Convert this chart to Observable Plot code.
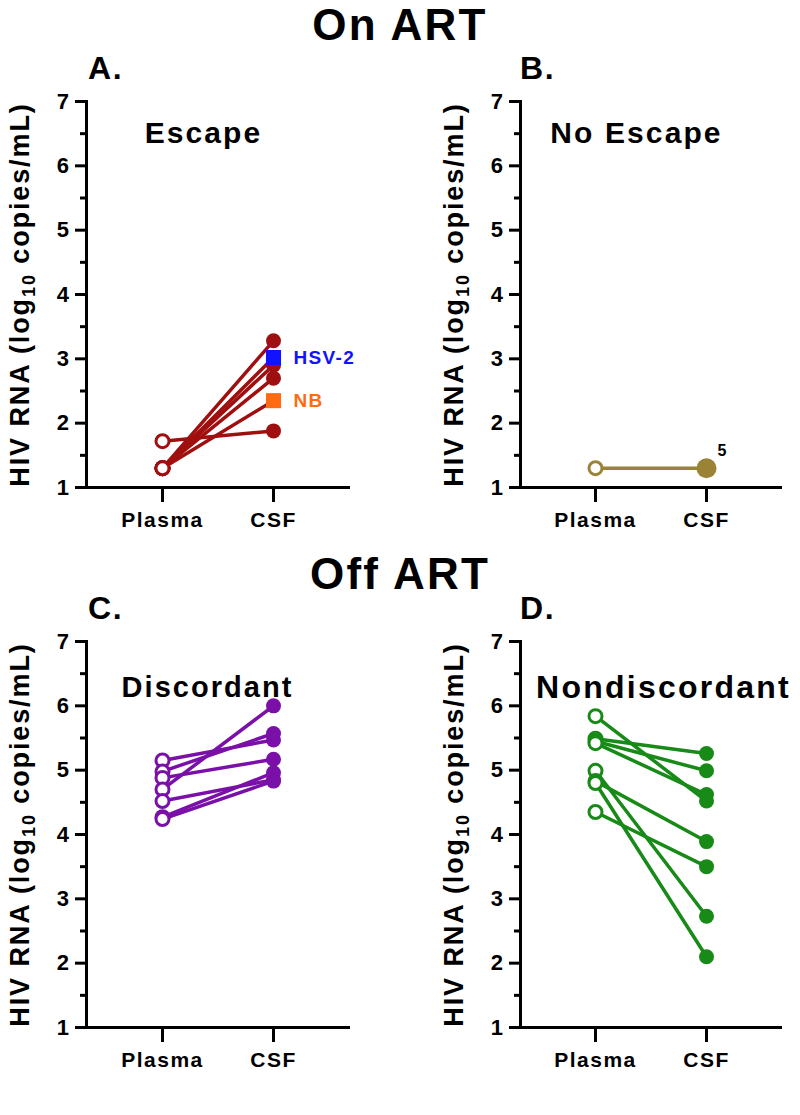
<!DOCTYPE html>
<html><head><meta charset="utf-8">
<script src="https://cdn.jsdelivr.net/npm/d3@7"></script>
<script src="https://cdn.jsdelivr.net/npm/@observablehq/plot@0.6"></script>
<style>
body{margin:0;background:#fff;font-family:"Liberation Sans",Arial,sans-serif;}
#fig{position:relative;width:800px;height:1115px;overflow:hidden;background:#fff;}
.t{position:absolute;font-weight:bold;color:#000;white-space:nowrap;line-height:1.15;letter-spacing:0.05em;}
.panel{position:absolute;}
</style></head><body><div id="fig"></div>
<script>
// ---------- data ----------
const categories = ["Plasma", "CSF"];
const yTicks = [1, 2, 3, 4, 5, 6, 7];
const yMinorTicks = [1.5, 2.5, 3.5, 4.5, 5.5, 6.5];
const yLabel = "HIV RNA (log10 copies/mL)";

// A. On ART, Escape
const escapePlasma = [1.72, 1.30, 1.30, 1.30, 1.30, 1.30];
const escapeCSF    = [1.88, 3.28, 3.02, 2.90, 2.70, 2.35];
const escapeTag    = ["",   "",   "HSV-2", "", "", "NB"];

// B. On ART, No Escape (5 overlapping participants)
const noEscapePlasma = [1.30];
const noEscapeCSF    = [1.30];
const noEscapeCount  = ["5"];

// C. Off ART, Discordant
const discPlasma = [5.15, 4.98, 4.88, 4.70, 4.52, 4.27, 4.24];
const discCSF    = [5.47, 5.57, 5.17, 6.00, 4.85, 4.96, 4.83];

// D. Off ART, Nondiscordant
const nondPlasma = [5.84, 5.49, 5.45, 5.42, 4.99, 4.83, 4.80, 4.35];
const nondCSF    = [4.52, 5.26, 4.99, 4.62, 2.73, 3.89, 2.10, 3.50];

// ---------- styles ----------
const FONT = "Liberation Sans, Arial, sans-serif";
const tagColors = {"HSV-2": "#1212ff", "NB": "#ff6a12"};

function rows(plasma, csf, tags) {
  const out = [];
  plasma.forEach((v, i) => {
    out.push({id: i, cat: "Plasma", v});
    out.push({id: i, cat: "CSF", v: csf[i], tag: tags ? tags[i] : ""});
  });
  return out;
}

function panel({data, color, title, titleSize, titleDx, titleDy, marginLeft, marginRight, bigCSF, countLabel}) {
  const plasmaRows = data.filter(d => d.cat === "Plasma");
  const csfCircles = data.filter(d => d.cat === "CSF" && !d.tag);
  const csfSquares = data.filter(d => d.cat === "CSF" && d.tag);
  const marks = [
    Plot.axisY(yTicks, {tickSize: 11, strokeWidth: 3, tickPadding: 5, tickFormat: d3.format("d"), fontSize: 22, fontWeight: "bold", label: null, fontFamily: FONT}),
    Plot.axisY(yMinorTicks, {tickSize: 6, strokeWidth: 3, text: null, label: null}),
    Plot.axisX({tickSize: 15, strokeWidth: 3, tickPadding: 10, fontSize: 21, fontWeight: "bold", label: null, fontFamily: FONT}),
    Plot.frame({anchor: "left", strokeWidth: 3, stroke: "black"}),
    Plot.frame({anchor: "bottom", strokeWidth: 3, stroke: "black"}),
    Plot.line(data, {x: "cat", y: "v", z: "id", stroke: color, strokeWidth: 3.5}),
    Plot.dot(plasmaRows, {x: "cat", y: "v", r: 6.5, stroke: color, fill: "white", strokeWidth: 3}),
    Plot.dot(csfCircles, {x: "cat", y: "v", r: bigCSF ? 10 : 7.5, fill: color, stroke: "none"}),
    Plot.dot(csfSquares, {x: "cat", y: "v", symbol: "square", r: 8.5, fill: d => tagColors[d.tag], stroke: "none"}),
    Plot.text(csfSquares, {x: "cat", y: "v", text: "tag", dx: 20, textAnchor: "start", fill: d => tagColors[d.tag], fontSize: 19, fontWeight: "bold", fontFamily: FONT}),
    Plot.text([title], {frameAnchor: "top", dx: titleDx, dy: titleDy, fontSize: titleSize, fontWeight: "bold", fill: "black", fontFamily: FONT}),
    Plot.text([yLabel], {frameAnchor: "left", dx: -66, rotate: -90, textAnchor: "middle", lineAnchor: "middle", fontSize: 27, fontWeight: "bold", fill: "black", fontFamily: FONT})
  ];
  if (countLabel) {
    marks.push(Plot.text(data.filter(d => d.cat === "CSF"), {x: "cat", y: "v", text: () => countLabel, dx: 16, dy: -17, fontSize: 16, fontWeight: "bold", fill: "black", fontFamily: FONT}));
  }
  const chart = Plot.plot({
    width: 400, height: 540,
    marginTop: 101, marginBottom: 53, marginLeft, marginRight,
    style: {color: "black", background: "transparent", fontFamily: FONT, overflow: "visible"},
    x: {type: "point", domain: categories, padding: 0.67},
    y: {domain: [1, 7]},
    marks
  });
  chart.querySelectorAll("text").forEach(t => {
    t.style.letterSpacing = "0.07em";
    if (t.textContent === yLabel) {
      t.textContent = "";
      const ns = "http://www.w3.org/2000/svg";
      const a = document.createElementNS(ns, "tspan"); a.textContent = "HIV RNA (log";
      const b = document.createElementNS(ns, "tspan"); b.textContent = "10";
      b.setAttribute("font-size", "18"); b.setAttribute("dy", "6");
      const c = document.createElementNS(ns, "tspan"); c.textContent = " copies/mL)";
      c.setAttribute("dy", "-6");
      t.append(a, b, c);
    }
  });
  return chart;
}

const fig = document.getElementById("fig");
function place(el, left, top) {
  const w = document.createElement("div");
  w.className = "panel"; w.style.left = left + "px"; w.style.top = top + "px";
  w.appendChild(el); fig.appendChild(w);
}
function label(text, left, top, size, center) {
  const d = document.createElement("div");
  d.className = "t"; d.textContent = text;
  d.style.fontSize = size + "px"; d.style.top = top + "px";
  if (center) { d.style.left = "0px"; d.style.width = "800px"; d.style.textAlign = "center"; }
  else d.style.left = left + "px";
  fig.appendChild(d);
}

place(panel({data: rows(escapePlasma, escapeCSF, escapeTag), color: "#a00f0f", title: "Escape", titleSize: 30, titleDx: -14, titleDy: 20, marginLeft: 86, marginRight: 52}), 0, 0);
place(panel({data: rows(noEscapePlasma, noEscapeCSF), color: "#9a8236", title: "No Escape", titleSize: 30, titleDx: -14, titleDy: 20, marginLeft: 120, marginRight: 20, bigCSF: true, countLabel: noEscapeCount[0]}), 400, 0);
place(panel({data: rows(discPlasma, discCSF), color: "#7a10a8", title: "Discordant", titleSize: 29, titleDx: -10, titleDy: 35, marginLeft: 86, marginRight: 52}), 0, 540);
place(panel({data: rows(nondPlasma, nondCSF), color: "#178a17", title: "Nondiscordant", titleSize: 32, titleDx: 13, titleDy: 34, marginLeft: 120, marginRight: 20}), 400, 540);

label("On ART", 0, 0, 44, true);
label("Off ART", 0, 549, 44, true);
label("A.", 88, 50, 32);
label("B.", 520, 50, 32);
label("C.", 88, 590, 32);
label("D.", 520, 590, 32);
</script></body></html>
